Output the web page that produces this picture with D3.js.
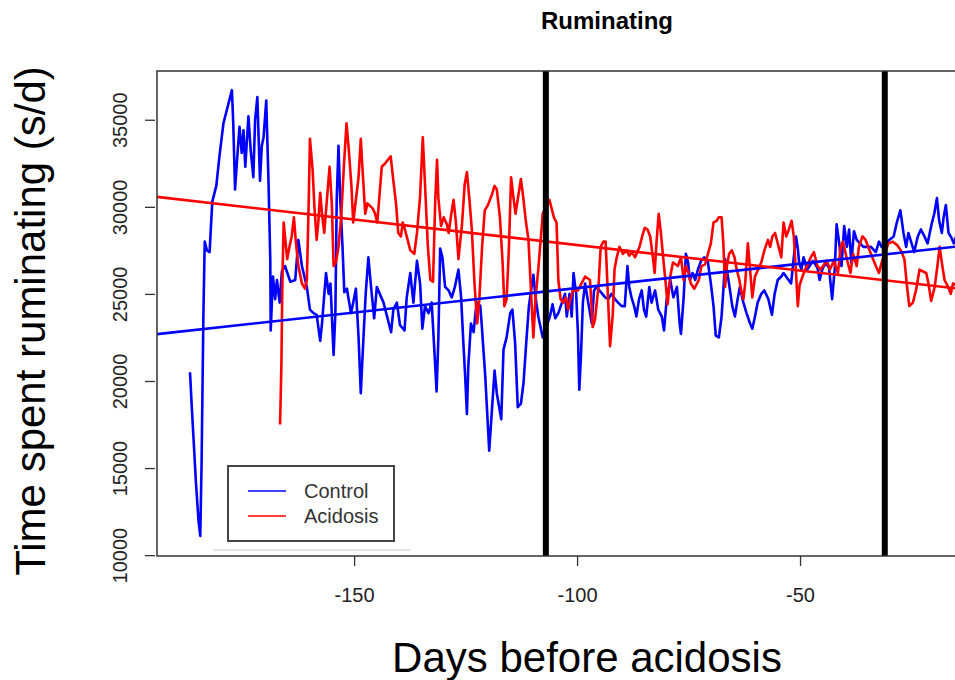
<!DOCTYPE html>
<html>
<head>
<meta charset="utf-8">
<script src="https://cdn.jsdelivr.net/npm/d3@7"></script>
<style>
body { margin: 0; background: #fff; }
text { font-family: "Liberation Sans", Arial, sans-serif; }
</style>
</head>
<body>
<div id="chart"></div>
<script>
// values
var controlDays = [-186.8,-186.4,-185.9,-185.5,-184.9,-184.5,-184.2,-184.0,-183.8,-183.5,-183.0,-182.4,-182.1,-181.8,-180.9,-180.2,-179.3,-178.2,-177.4,-177.1,
    -176.7,-176.3,-175.7,-175.2,-174.8,-174.4,-173.7,-173.2,-172.6,-172.2,-171.7,-171.1,-170.7,-170.3,-169.7,-169.2,-168.8,-168.7,-168.2,-167.7,
    -167.3,-166.7,-166.2,-165.5,-164.3,-163.2,-162.5,-161.7,-160.6,-159.9,-159.1,-158.4,-157.6,-157.2,-156.3,-155.7,-155.3,-154.6,-154.2,-153.9,
    -153.5,-153.1,-152.6,-152.2,-151.6,-151.3,-150.7,-150.2,-149.6,-149.0,-148.5,-147.9,-147.4,-146.8,-146.2,-145.5,-144.9,-143.4,-141.7,-141.2,
    -140.4,-139.7,-138.7,-138.2,-137.4,-136.7,-135.9,-135.2,-134.7,-134.1,-133.3,-132.6,-132.1,-131.5,-131.1,-130.7,-130.2,-129.6,-128.8,-128.1,
    -127.4,-126.6,-126.0,-125.5,-125.1,-124.7,-124.4,-123.8,-123.2,-122.7,-122.3,-121.7,-121.4,-120.6,-119.7,-119.1,-118.5,-118.0,-117.0,-116.5,
    -115.8,-115.0,-114.5,-113.9,-113.3,-112.6,-112.0,-111.4,-110.8,-109.8,-109.3,-108.7,-107.7,-106.1,-105.5,-104.9,-104.2,-103.4,-102.7,-102.3,
    -101.7,-101.2,-100.8,-100.2,-99.8,-99.5,-99.1,-98.7,-98.2,-97.7,-96.7,-96.2,-95.6,-95.0,-93.7,-93.0,-92.3,-91.5,-90.8,-90.0,
    -89.3,-88.7,-88.3,-87.8,-87.2,-86.7,-86.1,-85.5,-85.0,-84.5,-83.8,-83.3,-82.5,-81.8,-81.0,-80.5,-79.9,-79.1,-78.4,-77.6,
    -77.0,-76.7,-76.1,-75.6,-75.1,-74.7,-74.1,-73.5,-72.9,-72.2,-71.5,-70.7,-70.0,-69.4,-68.9,-68.2,-67.6,-67.2,-66.8,-66.3,
    -65.7,-65.2,-64.6,-64.0,-63.5,-62.7,-62.0,-61.2,-60.7,-60.1,-59.5,-58.7,-58.0,-57.1,-56.3,-55.7,-55.0,-54.2,-53.7,-52.0,
    -51.4,-50.9,-50.5,-50.2,-49.7,-49.2,-48.4,-47.6,-47.1,-46.1,-45.6,-45.0,-44.3,-43.5,-42.8,-42.2,-41.8,-41.2,-40.7,-40.1,
    -39.5,-39.0,-38.5,-37.9,-37.3,-35.8,-34.1,-33.0,-32.3,-31.7,-30.0,-29.0,-28.3,-27.5,-26.8,-26.2,-25.7,-25.1,-24.4,-23.6,
    -22.9,-22.1,-21.4,-20.5,-19.9,-19.3,-18.8,-18.2,-17.8,-17.3,-16.7,-16.0,-15.5,-15.0,-14.5];
var controlValues = [20500,18500,16200,14300,12000,11100,15300,19500,23700,28000,27500,27400,28900,30300,31200,32900,34800,35900,36700,34800,
    31000,32500,34600,33100,34400,32300,35200,33300,31700,35000,36300,31500,33500,34000,36100,31500,27000,22900,26000,24700,
    25800,24500,26300,26600,25700,25800,28100,26600,25400,24100,23900,23800,22300,23300,26200,25000,25600,21500,23900,30400,
    33500,30400,27700,25100,25300,24800,23900,24500,25300,22500,19300,22500,25000,27100,25400,23600,25400,24500,22800,24100,
    24500,23200,22900,24800,26200,24500,26900,25600,23000,24300,23900,24500,22200,19400,22500,27600,27100,25400,25200,24800,
    25400,26400,24800,22200,20300,18100,20800,23300,22800,24100,24500,24300,23300,20300,16000,18300,20600,19300,17800,21800,
    22500,23900,24100,22200,18500,18700,19900,22200,24300,26100,24800,23700,22500,23700,24400,23600,23900,24500,25000,23700,
    25000,23700,26200,25000,22700,19500,21600,24500,25600,24800,23300,25200,25400,25200,24800,24700,25000,24700,24500,24300,
    24300,26600,25400,24800,24300,23700,24700,25200,24100,23700,25400,24500,25200,24100,23700,22900,24700,25800,24800,25400,
    23300,22700,24800,27300,26800,25800,26200,25800,26400,26900,27100,26900,25600,24300,22600,22500,23700,25200,27000,26200,
    25200,24300,23700,24700,25400,24500,23900,23300,23000,23700,24500,25000,25200,24700,23800,25000,25800,26000,26200,25600,
    27100,28300,27600,26800,26400,27100,26400,26700,26900,26500,25800,26400,26800,26500,24700,26500,29000,27900,26600,28900,
    27700,28700,26800,28600,28100,27700,27700,27400,28000,27700,28100,28300,29100,29800,28500,27700,28500,28000,27400,28300,
    28700,28300,27900,29000,29600,30500,29200,28500,29400,30100,28500,28200,27900,28300,28000];

var acidosisDays = [-166.6,-166.3,-166.1,-165.8,-165.5,-165.0,-164.5,-164.0,-163.5,-163.1,-162.5,-161.7,-161.0,-160.6,-160.2,-159.9,-159.3,-158.9,-158.4,-158.0,
    -157.6,-157.2,-156.7,-156.1,-155.5,-155.0,-154.6,-154.0,-153.5,-152.9,-152.3,-151.7,-151.2,-150.6,-150.2,-149.6,-149.0,-148.5,-148.1,-147.5,
    -147.0,-145.8,-145.3,-144.8,-144.2,-143.8,-143.0,-141.8,-141.2,-140.6,-140.1,-139.5,-139.1,-138.6,-138.0,-137.4,-136.5,-135.9,-135.2,-134.6,
    -134.1,-133.5,-132.9,-132.3,-131.8,-131.4,-131.1,-130.5,-129.9,-129.2,-128.8,-128.2,-127.7,-127.2,-126.6,-125.8,-125.2,-124.7,-124.2,-123.6,
    -123.0,-122.4,-121.9,-121.3,-120.7,-120.0,-119.1,-118.5,-118.0,-117.3,-116.7,-116.3,-115.8,-115.3,-114.8,-114.3,-113.8,-113.2,-112.6,-112.1,
    -111.5,-110.9,-110.3,-109.8,-109.3,-108.7,-107.7,-106.2,-105.7,-105.2,-104.6,-104.2,-103.7,-103.1,-102.5,-102.0,-101.5,-100.9,-99.8,-98.2,
    -97.1,-96.5,-96.0,-95.2,-94.7,-94.1,-93.6,-93.2,-92.6,-92.0,-91.6,-91.1,-90.5,-89.7,-88.9,-88.3,-87.7,-87.0,-86.0,-85.3,
    -84.8,-84.2,-83.6,-83.0,-82.6,-82.2,-81.7,-81.2,-80.7,-80.2,-79.7,-79.1,-78.5,-77.4,-76.7,-76.1,-75.6,-75.0,-74.5,-73.7,
    -72.7,-72.1,-71.3,-70.0,-69.4,-68.7,-68.2,-67.6,-67.2,-66.8,-66.4,-65.9,-65.3,-64.7,-64.2,-63.6,-63.2,-62.7,-62.3,-61.7,
    -61.2,-60.7,-60.1,-58.7,-58.0,-57.2,-56.7,-56.2,-55.6,-54.8,-54.2,-53.7,-53.1,-52.5,-51.9,-51.4,-50.9,-50.5,-50.1,-48.9,
    -48.4,-47.6,-46.9,-46.1,-45.4,-44.0,-43.3,-42.4,-41.5,-40.9,-40.4,-39.3,-38.7,-38.1,-37.3,-36.8,-36.0,-35.3,-33.8,-33.0,
    -32.3,-31.7,-30.2,-29.2,-28.2,-27.4,-26.6,-26.0,-25.5,-24.7,-24.0,-23.2,-22.5,-21.7,-21.2,-20.6,-19.8,-19.2,-18.7,-18.2,
    -17.6,-16.8,-16.2,-15.7,-14.9];
var acidosisValues = [17500,21000,25400,29100,28300,27000,27700,28300,29400,28100,26600,25600,25300,25800,30000,33900,32100,30000,28100,29200,
    30800,29600,28500,30400,32300,30200,26600,26900,27700,29400,32300,34800,33300,31200,29100,30400,31700,33900,32100,29600,
    30200,29900,29600,29100,31000,32300,32500,32900,31500,30200,28500,28300,29100,28700,28100,27500,27300,28500,30600,34000,
    31300,27900,25800,25700,30400,32700,30500,28900,29400,29000,28500,29600,30400,29200,27000,29000,31300,32000,30600,28700,
    25600,23300,24800,27700,29800,30100,30700,31200,31000,29400,26800,24300,24700,27500,31700,30600,29600,30600,31600,30600,
    29200,28100,25000,22500,24800,26400,29600,30400,29900,29400,29100,25800,24700,24500,24800,24100,24700,25200,25200,26000,
    25800,23100,23500,25400,27700,28000,28000,25600,22000,23800,26400,27100,27700,27300,27500,27200,27400,27100,27700,28400,
    28800,28700,28300,27100,26200,27900,29600,28500,27100,25800,24400,26000,26800,26600,27100,25800,26600,26200,25600,25300,
    25800,26600,26700,27900,29100,29200,29400,29400,27900,25400,26600,27300,27500,27100,26400,25800,25200,24700,25600,27900,
    26400,24800,26000,26800,27500,28100,27700,28300,28500,27700,27100,29100,28300,28700,29200,28300,26200,24300,25500,26400,
    26600,27100,27400,26600,26400,26900,26400,26900,26200,27700,28000,26800,26200,27300,26600,27700,28300,28100,27100,26600,
    26200,26800,27900,28000,27800,27500,27000,25400,24300,24500,25200,26400,26300,26200,25600,24600,25400,26600,27700,26800,
    25800,25400,25000,25600,25500];

// straight-line fits drawn across the whole plot
var fitNames = ["Control", "Acidosis"];
var fitIntercepts = [28138, 24873];
var fitSlopes = [28.05, -29.34];

var markerDays = [-107, -31];
var xTicks = [-150, -100, -50];
var yTicks = [10000, 15000, 20000, 25000, 30000, 35000];
var seriesNames = ["Control", "Acidosis"];
var seriesColors = ["#0000ff", "#ff0000"];

var width = 955, height = 680;
var plotLeft = 157, plotTop = 71, plotBottom = 556;

var svg = d3.select("#chart").append("svg")
    .attr("width", width)
    .attr("height", height)
    .style("display", "block");

svg.append("rect").attr("width", width).attr("height", height).attr("fill", "#fff");

var x = d3.scaleLinear().domain([-194.2, -15.25]).range([plotLeft, width]);
var y = d3.scaleLinear().domain([9950, 37800]).range([plotBottom, plotTop]);

svg.append("clipPath").attr("id", "plot-clip")
    .append("rect")
    .attr("x", plotLeft).attr("y", plotTop)
    .attr("width", width - plotLeft).attr("height", plotBottom - plotTop);

var plot = svg.append("g").attr("clip-path", "url(#plot-clip)");

var line = d3.line()
    .x(function(d){ return x(d[0]); })
    .y(function(d){ return y(d[1]); });

var series = [d3.zip(controlDays, controlValues), d3.zip(acidosisDays, acidosisValues)];

series.forEach(function(s, i){
    plot.append("path")
        .datum(s)
        .attr("d", line)
        .attr("fill", "none")
        .attr("stroke", seriesColors[i])
        .attr("stroke-width", 2.6)
        .attr("stroke-linejoin", "round");
});

// fitted lines
fitNames.forEach(function(name, i){
    var d0 = x.domain()[0], d1 = x.domain()[1];
    plot.append("line")
        .attr("x1", x(d0)).attr("y1", y(fitIntercepts[i] + fitSlopes[i] * d0))
        .attr("x2", x(d1)).attr("y2", y(fitIntercepts[i] + fitSlopes[i] * d1))
        .attr("stroke", seriesColors[seriesNames.indexOf(name)])
        .attr("stroke-width", 2.6);
});

// thick black markers
plot.selectAll(".marker")
    .data(markerDays)
    .enter().append("line")
    .attr("class", "marker")
    .attr("x1", function(d){ return x(d); })
    .attr("x2", function(d){ return x(d); })
    .attr("y1", plotTop).attr("y2", plotBottom)
    .attr("stroke", "#000")
    .attr("stroke-width", 6);

// frame
svg.append("rect")
    .attr("x", plotLeft).attr("y", plotTop)
    .attr("width", width + 100).attr("height", plotBottom - plotTop)
    .attr("fill", "none")
    .attr("stroke", "#333")
    .attr("stroke-width", 1.5);

// x axis
var xAxis = svg.append("g")
    .attr("transform", "translate(0," + plotBottom + ")")
    .call(d3.axisBottom(x).tickValues(xTicks).tickSize(10).tickPadding(22).tickFormat(d3.format("d")));
xAxis.select(".domain").remove();
xAxis.selectAll("line").attr("stroke", "#333").attr("stroke-width", 1.3);
xAxis.selectAll("text")
    .attr("fill", "#222")
    .style("font-size", "20px")
    .style("font-family", "'Liberation Sans', Arial, sans-serif")
    .text(function(d){ return d < 0 ? "-" + Math.abs(d) : d; });

// y axis, labels turned sideways
var yAxis = svg.append("g")
    .attr("transform", "translate(" + (plotLeft - 2) + ",0)")
    .call(d3.axisLeft(y).tickValues(yTicks).tickSize(10).tickFormat(d3.format("d")));
yAxis.select(".domain").remove();
yAxis.selectAll("line").attr("stroke", "#333").attr("stroke-width", 1.3);
yAxis.selectAll("text")
    .attr("x", null).attr("dy", null)
    .attr("transform", "translate(-28,0) rotate(-90)")
    .attr("text-anchor", "middle")
    .attr("fill", "#222")
    .style("font-size", "20px")
    .style("font-family", "'Liberation Sans', Arial, sans-serif");

// titles
svg.append("text")
    .attr("x", 607).attr("y", 29)
    .attr("text-anchor", "middle")
    .style("font-size", "24px")
    .style("font-weight", "bold")
    .text("Ruminating");

svg.append("text")
    .attr("x", 587).attr("y", 672)
    .attr("text-anchor", "middle")
    .style("font-size", "42px")
    .text("Days before acidosis");

svg.append("text")
    .attr("transform", "translate(45,321) rotate(-90)")
    .attr("text-anchor", "middle")
    .style("font-size", "42px")
    .text("Time spent ruminating (s/d)");

// legend
svg.append("line")
    .attr("x1", 213).attr("x2", 410).attr("y1", 550).attr("y2", 550)
    .attr("stroke", "#e4e4e4").attr("stroke-width", 2);

var legend = svg.append("g");
legend.append("rect")
    .attr("x", 228).attr("y", 466)
    .attr("width", 166).attr("height", 75)
    .attr("fill", "#fff")
    .attr("stroke", "#444")
    .attr("stroke-width", 2);

var legendRows = legend.selectAll(".legend-row")
    .data(seriesNames)
    .enter().append("g")
    .attr("class", "legend-row")
    .attr("transform", function(d, i){ return "translate(0," + (491 + i * 25) + ")"; });

legendRows.append("line")
    .attr("x1", 248).attr("x2", 286)
    .attr("stroke", function(d, i){ return seriesColors[i]; })
    .attr("stroke-opacity", 0.75)
    .attr("stroke-width", 2);

legendRows.append("text")
    .attr("x", 304).attr("y", 7)
    .attr("fill", "#333")
    .style("font-size", "20px")
    .text(function(d){ return d; });
</script>
</body>
</html>
